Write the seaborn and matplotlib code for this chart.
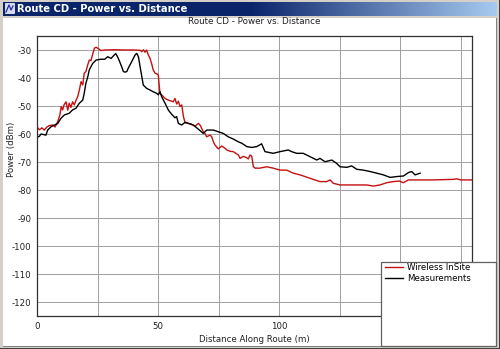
import numpy as np
import pandas as pd
import matplotlib
matplotlib.use("Agg")
import matplotlib.pyplot as plt
from matplotlib.patches import Rectangle
from matplotlib.lines import Line2D
from matplotlib.colors import LinearSegmentedColormap
import seaborn as sns

# Predicted power along the route (ray-tracing simulation)
insite_dist = [0, 1.0, 2.0, 3.0, 4.0, 5.0, 6.5, 7.5, 8.6, 9.5, 10.0, 10.6, 11.2, 12.0,
               12.7, 13.3, 14.0, 14.7, 15.4, 16.1, 16.8, 17.5, 18.2, 18.9, 19.5, 20.2,
               20.9, 21.6, 22.3, 23.0, 23.7, 24.4, 25.5, 26.4, 28, 32, 36, 40, 42.6,
               43.3, 44.0, 44.6, 45.3, 46.0, 46.7, 47.4, 48.0, 48.8, 49.5, 50.1, 50.8,
               51.5, 52.9, 54.3, 55.7, 56.3, 57.0, 57.7, 58.4, 59.1, 59.8, 60.5, 61.2,
               62.5, 63.5, 65.3, 66.7, 67.5, 68.7, 69.4, 70.1, 71.5, 72.2, 72.9, 73.5,
               74.9, 76.3, 77.7, 78.4, 79.8, 81.1, 83.2, 83.9, 85.2, 86.5, 87.3, 88.0,
               88.7, 89.4, 90.1, 92.0, 94.9, 97.6, 100.4, 103.2, 105.9, 108.7, 112.8,
               116.9, 119.7, 121.1, 122.4, 125.2, 128.0, 131.0, 133.5, 136.2, 139.0,
               141.7, 144.5, 147.2, 149.7, 151.4, 153.4, 156.9, 163.8, 172.0, 173.4,
               175.0, 180.0]
insite_power = [-57.5, -58.5, -57.8, -58.6, -57.6, -57.0, -56.8, -57.5, -55.5, -53.0,
                -50.2, -51.4, -49.5, -48.5, -51.5, -49.0, -50.5, -48.5, -49.6, -48.0,
                -46.7, -44.3, -41.3, -42.5, -38.3, -37.7, -35.5, -33.6, -33.8, -31.5,
                -29.4, -29.0, -29.6, -30.2, -30.0, -29.9, -30.0, -30.0, -30.1, -30.6,
                -29.9, -30.8, -30.0, -31.8, -33.0, -35.0, -37.1, -38.3, -38.5, -38.9,
                -45.5, -46.0, -47.3, -47.9, -48.3, -48.5, -47.3, -49.3, -48.3, -50.2,
                -49.6, -53.8, -56.0, -56.2, -56.4, -57.2, -56.2, -57.0, -59.2, -59.8,
                -61.0, -60.4, -61.0, -62.8, -63.9, -65.3, -64.3, -65.1, -65.7, -66.2,
                -66.3, -67.5, -68.7, -68.0, -68.4, -68.9, -67.5, -67.9, -71.7, -72.2,
                -72.2, -71.7, -72.2, -72.9, -72.9, -74.0, -74.6, -75.8, -77.0, -77.0,
                -76.4, -77.6, -78.2, -78.2, -78.2, -78.2, -78.2, -78.6, -78.2, -77.4,
                -77.0, -76.8, -77.4, -76.4, -76.4, -76.4, -76.2, -76.0, -76.4, -76.4]

# Measured power along the route
meas_dist = [0, 1.0, 1.65, 2.7, 3.7, 4.4, 5.8, 7.2, 8.6, 9.9, 11.3, 13.3, 14.7, 16.1,
             17.5, 18.9, 19.5, 20.2, 21.0, 21.6, 23.0, 24.4, 26.4, 28.0, 29.2, 30.6,
             31.9, 32.6, 33.6, 35.0, 35.7, 36.4, 37.1, 37.7, 39.1, 40.5, 41.2, 41.9,
             42.6, 43.3, 43.9, 45.3, 46.7, 48.0, 49.5, 50.1, 50.8, 51.5, 52.9, 54.3,
             55.7, 57.0, 57.7, 58.4, 59.8, 61.2, 62.5, 64.6, 66.7, 68.7, 70.1, 72.9,
             74.9, 77.0, 79.0, 81.1, 83.2, 84.6, 86.7, 88.7, 90.8, 92.8, 94.2, 97.6,
             100.4, 103.8, 105.2, 107.3, 110.0, 112.8, 115.6, 116.9, 119.0, 121.8,
             123.8, 125.2, 128.0, 130.0, 132.1, 134.8, 137.6, 140.4, 143.1, 145.9,
             148.6, 151.4, 153.4, 154.8, 156.2, 158.3]
meas_power = [-61.2, -60.8, -60.0, -60.2, -60.4, -58.6, -57.4, -56.8, -56.2, -54.4,
              -53.2, -52.6, -51.4, -50.8, -49.0, -47.9, -45.5, -41.9, -39.5, -37.1,
              -34.8, -33.6, -33.3, -33.3, -32.4, -33.0, -31.8, -31.3, -33.0, -36.0,
              -37.7, -37.9, -37.7, -36.5, -34.2, -31.8, -31.2, -32.4, -36.0, -39.5,
              -42.5, -43.7, -44.3, -44.9, -45.5, -46.0, -44.9, -46.7, -49.0, -51.5,
              -53.0, -54.2, -53.8, -56.2, -56.8, -55.8, -56.2, -56.8, -58.3, -59.8,
              -58.6, -58.6, -59.2, -59.8, -61.0, -61.8, -62.8, -63.3, -64.5, -64.8,
              -64.5, -63.5, -66.3, -66.9, -66.3, -65.7, -66.3, -66.9, -66.9, -68.1,
              -69.3, -68.7, -69.9, -69.3, -70.5, -71.7, -71.9, -71.4, -72.6, -72.9,
              -73.4, -74.0, -74.6, -75.5, -75.2, -75.0, -73.8, -73.4, -74.6, -74.0]

series_names = ["Wireless InSite", "Measurements"]
series_colors = ["#c41010", "#000000"]
y_ticks = [-30, -40, -50, -60, -70, -80, -90, -100, -110, -120]
x_ticks = [0, 50, 100, 150]
x_minor = [25, 75, 125, 175]

chart_title = "Route CD - Power vs. Distance"

df = pd.concat([
    pd.DataFrame({"dist": insite_dist, "power": insite_power, "src": series_names[0]}),
    pd.DataFrame({"dist": meas_dist, "power": meas_power, "src": series_names[1]}),
])

W, H = 500, 349
fig = plt.figure(figsize=(W / 100, H / 100), dpi=100)
fig.patch.set_facecolor("#d4d0c8")

def px_rect(x0, y0, x1, y1, **kw):
    """Rectangle given in pixel coordinates from the top-left corner."""
    r = Rectangle((x0 / W, 1 - y1 / H), (x1 - x0) / W, (y1 - y0) / H,
                  transform=fig.transFigure, **kw)
    fig.add_artist(r)
    return r

# window frame and client area
px_rect(0, 0, 500, 349, facecolor="#d4d0c8", edgecolor="none", zorder=-10)
px_rect(499, 0, 500, 349, facecolor="#404040", edgecolor="none", zorder=-9)
px_rect(0, 348, 500, 349, facecolor="#404040", edgecolor="none", zorder=-9)
px_rect(3, 18, 497, 347, facecolor="#ffffff", edgecolor="none", zorder=-8)
px_rect(496, 18, 497, 347, facecolor="#808080", edgecolor="none", zorder=-7)
px_rect(3, 346, 497, 347, facecolor="#808080", edgecolor="none", zorder=-7)

# title bar with gradient
tb = fig.add_axes([3 / W, 1 - 16 / H, 494 / W, 14 / H], zorder=-5)
grad = np.linspace(0, 1, 256).reshape(1, -1)
tb_cmap = LinearSegmentedColormap.from_list("tb", ["#0a246a", "#0a246a", "#a6caf0"])
tb.imshow(grad, aspect="auto", cmap=tb_cmap, extent=[0, 1, 0, 1])
tb.set_axis_off()
fig.text(17 / W, 1 - 9 / H, chart_title, color="white", fontsize=7.2,
         fontweight="bold", va="center", ha="left", family="DejaVu Sans")
px_rect(5, 3, 14, 13, facecolor="#d8d8f0", edgecolor="#ffffff", lw=0.5, zorder=5)
fig.add_artist(Line2D([6 / W, 9 / W, 11 / W, 13 / W],
                      [1 - 12 / H, 1 - 5 / H, 1 - 10 / H, 1 - 6 / H],
                      color="#2030a0", lw=0.9, zorder=6))

# plot area
ax = fig.add_axes([37 / W, 1 - 316 / H, (471.7 - 37) / W, (316 - 36) / H])
ax.set_facecolor("white")
sns.lineplot(data=df, x="dist", y="power", hue="src", palette=series_colors,
             hue_order=series_names, sort=False, estimator=None, lw=1.0,
             legend=False, ax=ax)
ax.set_xlim(0, 179.6)
ax.set_ylim(-125, -25)
ax.set_xticks(x_ticks)
ax.set_xticks(x_minor, minor=True)
ax.set_yticks(y_ticks)
ax.set_xticklabels([str(v) for v in x_ticks])
ax.set_yticklabels([str(v) for v in y_ticks])
ax.grid(True, which="both", color="#a0a0a0", lw=0.7)
ax.set_axisbelow(True)
ax.tick_params(which="both", length=0, labelsize=6.2, colors="#202020", pad=4)
for s in ax.spines.values():
    s.set_color("#303030")
    s.set_linewidth(0.9)
ax.set_xlabel("")
ax.set_ylabel("")
ax.set_title(chart_title, fontsize=6.3, color="#202020", pad=9)
fig.text(254 / W, 1 - 339 / H, "Distance Along Route (m)", fontsize=6.2,
         color="#202020", ha="center", va="center")
fig.text(12 / W, 1 - 149 / H, "Power (dBm)", fontsize=6.2, color="#202020",
         ha="center", va="center", rotation=90)

# legend panel overlapping the lower-right corner
px_rect(381, 262, 496, 346, facecolor="white", edgecolor="#606060", lw=0.9, zorder=8)
handles = [Line2D([], [], color=c, lw=1.0) for c in series_colors]
leg = fig.legend(handles, series_names, loc="upper left",
                 bbox_to_anchor=(382 / W, 1 - 260 / H), frameon=False,
                 fontsize=6.2, handlelength=2.0, handletextpad=0.5,
                 labelspacing=0.15, borderaxespad=0)
leg.set_zorder(9)

fig.savefig("out.png", dpi=100)
